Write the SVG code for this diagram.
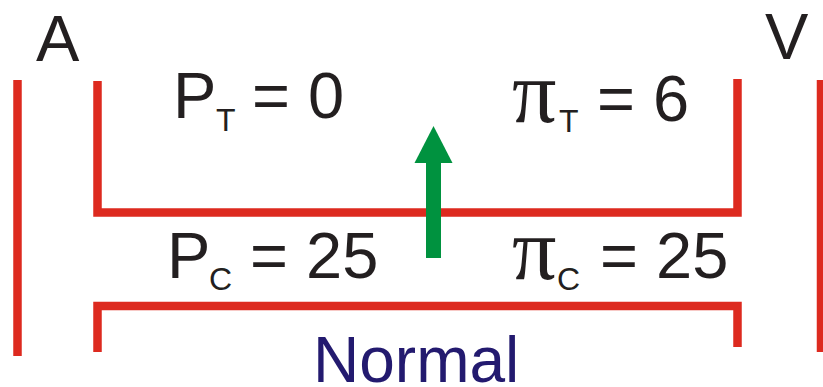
<svg xmlns="http://www.w3.org/2000/svg" width="823" height="387" viewBox="0 0 823 387">
<style>
.wall{fill:none;stroke:#dd2a1f;stroke-width:8.5;stroke-linecap:butt;stroke-linejoin:miter}
.t{font-family:"Liberation Sans",Arial,sans-serif;font-size:65px;fill:#231f20}
.s{font-family:"Liberation Sans",Arial,sans-serif;font-size:32px;fill:#231f20}
.pi{font-family:"Liberation Serif","Times New Roman",serif;font-size:88px;fill:#231f20}
.lbl{font-family:"Liberation Sans",Arial,sans-serif;font-size:64px;fill:#231a6f}
</style>
<rect width="823" height="387" fill="#ffffff"/>
<g id="walls">
<line class="wall" x1="17.5" y1="80" x2="17.5" y2="356"/>
<line class="wall" x1="821" y1="80" x2="821" y2="352"/>
<path class="wall" d="M97.5,81 V212.5 H737.5 V79"/>
<path class="wall" d="M97.5,352 V306 H737.5 V347"/>
</g>
<g id="label-A"><text class="t" x="36" y="61">A</text></g>
<g id="label-V"><text class="t" x="765" y="59">V</text></g>
<g id="PT"><text class="t" x="173" y="118">P</text><text class="s" x="216" y="131">T</text><text class="t" x="252" y="118">= 0</text></g>
<g id="piT"><text class="pi" x="512" y="122">π</text><text class="s" x="559" y="132">T</text><text class="t" x="597" y="121">= 6</text></g>
<g id="PC"><text class="t" x="167" y="278">P</text><text class="s" x="209" y="290">C</text><text class="t" x="250" y="278">= 25</text></g>
<g id="piC"><text class="pi" x="512" y="279">π</text><text class="s" x="557" y="290">C</text><text class="t" x="600" y="278">= 25</text></g>
<g id="label-normal"><text class="lbl" x="313" y="382">Normal</text></g>
<g id="connectors">
<rect x="426" y="160" width="15" height="98" fill="#00923f"/>
<polygon points="433.5,126 452.5,163 414.5,163" fill="#00923f"/>
</g>
</svg>
